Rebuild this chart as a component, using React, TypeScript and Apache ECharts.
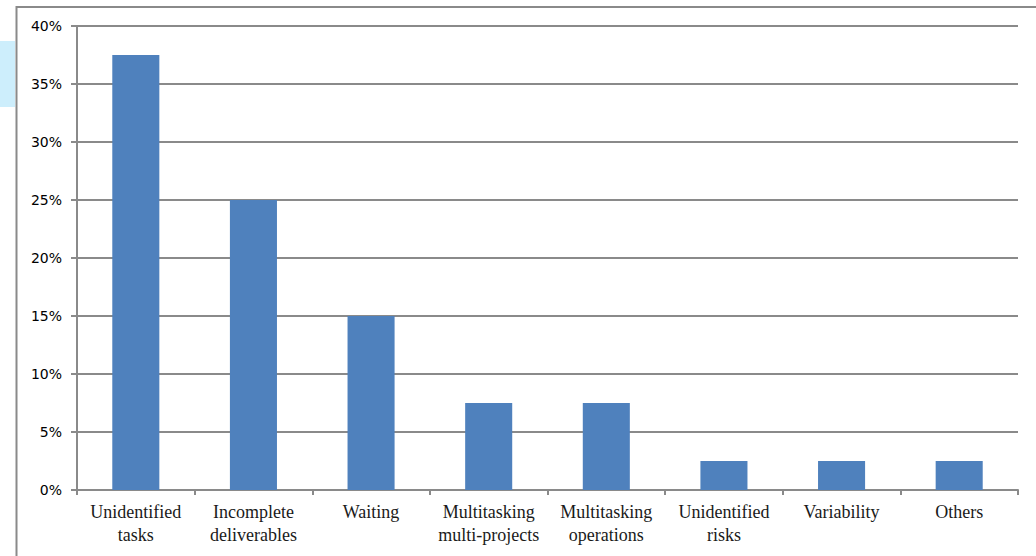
import React, { useEffect, useRef } from "react";
import * as echarts from "echarts";

const categories = [
  "Unidentified\ntasks",
  "Incomplete\ndeliverables",
  "Waiting",
  "Multitasking\nmulti-projects",
  "Multitasking\noperations",
  "Unidentified\nrisks",
  "Variability",
  "Others",
];
const values = [37.5, 25, 15, 7.5, 7.5, 2.5, 2.5, 2.5];

export default function App() {
  const ref = useRef<HTMLDivElement>(null);
  useEffect(() => {
    if (!ref.current) return;
    const chart = echarts.init(ref.current, undefined, { renderer: "svg" });
    chart.setOption({
      animation: false,
      backgroundColor: "#ffffff",
      grid: { left: 77, right: 18, top: 26, bottom: 66, containLabel: false },
      graphic: [
        {
          type: "rect",
          shape: { x: 0, y: 41, width: 15, height: 66 },
          style: { fill: "#cdeefc" },
          silent: true,
        },
        {
          type: "rect",
          shape: { x: 16.5, y: 7, width: 1100, height: 1000 },
          style: { fill: "none", stroke: "#8a8a8a", lineWidth: 2 },
          silent: true,
        },
      ],
      xAxis: {
        type: "category",
        data: categories,
        axisLine: { show: true, lineStyle: { color: "#8a8a8a", width: 2 } },
        axisTick: { show: true, length: 5, alignWithLabel: false, lineStyle: { color: "#8a8a8a", width: 2 } },
        axisLabel: {
          interval: 0,
          color: "#1a1a1a",
          fontFamily: "Liberation Serif",
          fontSize: 18,
          lineHeight: 23,
          margin: 10,
        },
      },
      yAxis: {
        type: "value",
        min: 0,
        max: 40,
        interval: 5,
        axisLine: { show: true, lineStyle: { color: "#8a8a8a", width: 2 } },
        axisTick: { show: true, length: 6, lineStyle: { color: "#8a8a8a", width: 2 } },
        splitLine: { show: true, lineStyle: { color: "#8a8a8a", width: 2 } },
        axisLabel: {
          formatter: "{value}%",
          color: "#000000",
          fontFamily: "DejaVu Sans",
          fontSize: 14,
          margin: 15,
        },
      },
      series: [
        {
          type: "bar",
          data: values,
          barWidth: "40%",
          itemStyle: { color: "#4f81bd" },
        },
      ],
    });
    return () => chart.dispose();
  }, []);
  return (
    <div
      ref={ref}
      style={{ position: "fixed", left: 0, top: 0, width: 1036, height: 556 }}
    />
  );
}
